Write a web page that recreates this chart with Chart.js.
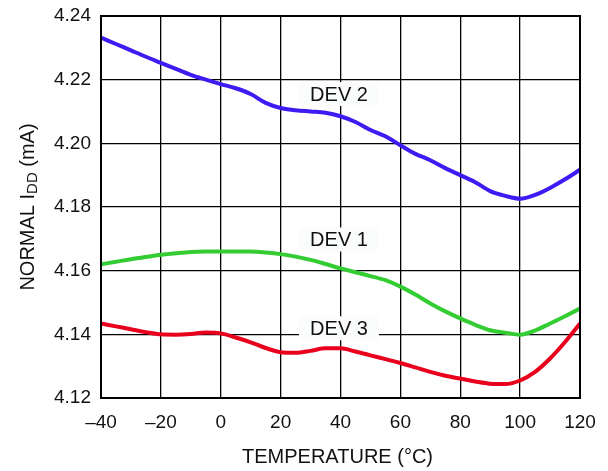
<!DOCTYPE html>
<html>
<head>
<meta charset="utf-8">
<script src="https://cdn.jsdelivr.net/npm/chart.js@4"></script>
<style>
  html, body { margin: 0; padding: 0; background: #fff; }
  #wrap { width: 608px; height: 471px; }
</style>
</head>
<body>
<div id="wrap"><canvas id="c" width="608" height="471"></canvas></div>
<script>
// Temperature (°C) sample points and normalised IDD (mA) per device
const temps = [-40, -35, -30, -25, -20, -15, -10, -5, 0, 5, 10, 15, 20, 25, 30, 35, 40,
  45, 50, 55, 60, 65, 70, 75, 80, 85, 90, 95, 100, 105, 110, 115, 120];
const dev2 = [4.2332, 4.2312, 4.2292, 4.2272, 4.2253, 4.2234, 4.2215, 4.2200, 4.2186, 4.2173,
  4.2155, 4.2127, 4.2111, 4.2104, 4.2100, 4.2096, 4.2085, 4.2067, 4.2042, 4.2022, 4.1994,
  4.1967, 4.1947, 4.1922, 4.1900, 4.1878, 4.1850, 4.1835, 4.1826, 4.1838, 4.1860, 4.1887, 4.1917];
const dev1 = [4.1620, 4.1628, 4.1636, 4.1643, 4.1650, 4.1655, 4.1659, 4.1660, 4.1660, 4.1660,
  4.1660, 4.1657, 4.1652, 4.1644, 4.1634, 4.1621, 4.1607, 4.1595, 4.1583, 4.1570, 4.1550,
  4.1525, 4.1497, 4.1472, 4.1450, 4.1430, 4.1413, 4.1405, 4.1399, 4.1412, 4.1434, 4.1457, 4.1481];
const dev3 = [4.1434, 4.1425, 4.1416, 4.1407, 4.1400, 4.1399, 4.1401, 4.1406, 4.1403, 4.1390,
  4.1375, 4.1357, 4.1344, 4.1342, 4.1348, 4.1356, 4.1356, 4.1346, 4.1334, 4.1322, 4.1310,
  4.1296, 4.1282, 4.1270, 4.1261, 4.1252, 4.1245, 4.1244, 4.1255, 4.1282, 4.1324, 4.1376, 4.1434];

const xTicks = [-40, -20, 0, 20, 40, 60, 80, 100, 120];
const yTicks = [4.12, 4.14, 4.16, 4.18, 4.20, 4.22, 4.24];

const seriesNames = ["DEV 1", "DEV 2", "DEV 3"];
// where each curve label sits, in data units (temperature, mA)
const labelAt = [[39.5, 4.1698], [39.5, 4.2155], [39.5, 4.1419]];

const FONT = "'Liberation Sans', Arial, Helvetica, sans-serif";

function points(values) {
  return values.map((v, i) => ({ x: temps[i], y: v }));
}

const frame = {
  id: "frame",
  beforeDatasetsDraw(chart) {
    const { ctx, scales: { x, y } } = chart;
    ctx.save();
    ctx.font = "20px " + FONT;
    ctx.textAlign = "center";
    ctx.textBaseline = "middle";
    labelAt.forEach((pos, i) => {
      const px = x.getPixelForValue(pos[0]);
      const py = y.getPixelForValue(pos[1]);
      ctx.fillStyle = "#fbfdfd";
      ctx.fillRect(px - 40, py - 12, 80, 24);
      ctx.fillStyle = "#111";
      ctx.fillText(seriesNames[i], px, py + 1);
    });
    ctx.restore();
  },
  afterDraw(chart) {
    const { ctx, chartArea: a } = chart;
    ctx.save();
    ctx.strokeStyle = "#000";
    ctx.lineWidth = 2;
    ctx.strokeRect(a.left, a.top, a.right - a.left, a.bottom - a.top);

    // x axis title
    ctx.fillStyle = "#111";
    ctx.font = "20px " + FONT;
    ctx.textAlign = "center";
    ctx.textBaseline = "middle";
    ctx.fillText("TEMPERATURE (°C)", (a.left + a.right) / 2 - 3, 457);

    // y axis title with subscript
    ctx.translate(28, (a.top + a.bottom) / 2);
    ctx.rotate(-Math.PI / 2);
    ctx.textAlign = "left";
    ctx.textBaseline = "middle";
    const big = "20px " + FONT, small = "15px " + FONT;
    const parts = [["NORMAL I", big, 0], ["DD", small, 5], [" (mA)", big, 0]];
    let total = 0;
    parts.forEach(p => { ctx.font = p[1]; total += ctx.measureText(p[0]).width; });
    let cx = -total / 2;
    parts.forEach(p => {
      ctx.font = p[1];
      ctx.fillText(p[0], cx, p[2]);
      cx += ctx.measureText(p[0]).width;
    });
    ctx.restore();
  }
};

new Chart(document.getElementById("c"), {
  type: "line",
  data: {
    datasets: [
      { label: seriesNames[1], data: points(dev2), borderColor: "#3c1cf2" },
      { label: seriesNames[0], data: points(dev1), borderColor: "#33cc33" },
      { label: seriesNames[2], data: points(dev3), borderColor: "#e8001c" }
    ].map(d => Object.assign(d, {
      borderWidth: 4,
      pointRadius: 0,
      fill: false,
      cubicInterpolationMode: "monotone"
    }))
  },
  options: {
    responsive: false,
    animation: false,
    devicePixelRatio: 1,
    layout: { padding: { top: 16, right: 28, left: 0, bottom: 0 } },
    plugins: { legend: { display: false }, tooltip: { enabled: false } },
    scales: {
      x: {
        type: "linear",
        min: -40,
        max: 120,
        afterBuildTicks(s) { s.ticks = xTicks.map(v => ({ value: v })); },
        afterFit(s) { s.height = 73; s.paddingLeft = 0; s.paddingRight = 0; },
        border: { display: false },
        grid: { color: "#000", lineWidth: 1.3, drawTicks: false },
        ticks: {
          padding: 13,
          color: "#111",
          font: { family: FONT, size: 19 },
          callback: v => (v < 0 ? "\u2013" + Math.abs(v) : String(v))
        }
      },
      y: {
        min: 4.12,
        max: 4.24,
        afterBuildTicks(s) { s.ticks = yTicks.map(v => ({ value: v })); },
        afterFit(s) { s.width = 101; s.paddingTop = 0; s.paddingBottom = 0; },
        border: { display: false },
        grid: { color: "#000", lineWidth: 1.3, drawTicks: false },
        ticks: {
          padding: 10,
          color: "#111",
          font: { family: FONT, size: 19 },
          callback: v => Number(v).toFixed(2)
        }
      }
    }
  },
  plugins: [frame]
});
</script>
</body>
</html>
